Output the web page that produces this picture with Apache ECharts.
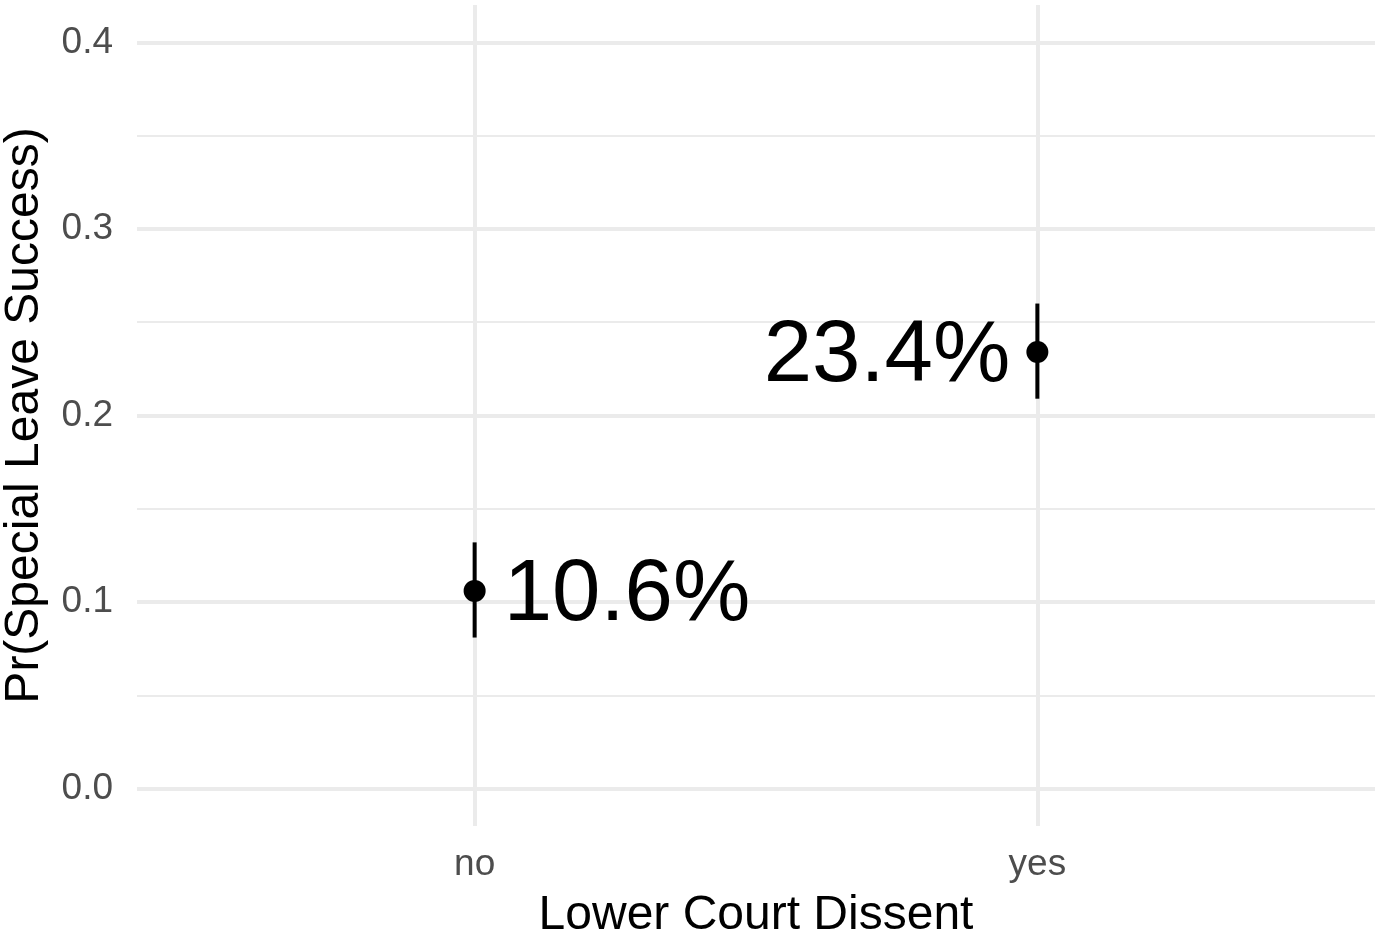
<!DOCTYPE html>
<html>
<head>
<meta charset="utf-8">
<title>Pr(Special Leave Success)</title>
<script src="https://cdn.jsdelivr.net/npm/echarts@6/dist/echarts.min.js"></script>
<style>
    html, body { margin: 0; padding: 0; background: #fff; }
    #chart { width: 1381px; height: 936px; }
</style>
</head>
<body>
<div id="chart"></div>
<script>
// data
var categories = ['no', 'yes'];
var estimates = [0.106, 0.234];
var lowerCI = [0.081, 0.209];
var upperCI = [0.132, 0.260];
var pointLabels = ['10.6%', '23.4%'];
var yTicks = [0, 0.1, 0.2, 0.3, 0.4];
var yMinorTicks = [0.05, 0.15, 0.25, 0.35];

(function() {
    var font = '"Liberation Sans", Arial, Helvetica, sans-serif',
        gridColor = '#ebebeb',
        chart = echarts.init(document.getElementById('chart'));

    // categories sit at 1, 2 on a value axis so the panel padding matches ggplot
    var xPos = categories.map(function(c, i) { return i + 1; });

    var gridLines = [];
    yTicks.forEach(function(v) {
        gridLines.push({ yAxis: v, lineStyle: { width: 4 } });
    });
    yMinorTicks.forEach(function(v) {
        gridLines.push({ yAxis: v, lineStyle: { width: 2 } });
    });
    xPos.forEach(function(v) {
        gridLines.push({ xAxis: v, lineStyle: { width: 4 } });
    });

    var pointData = estimates.map(function(v, i) {
        var right = i === 0;
        return {
            value: [xPos[i], v],
            label: {
                position: right ? 'right' : 'left',
                distance: right ? 18 : 16,
                formatter: pointLabels[i]
            }
        };
    });

    var series = [{
        name: 'grid',
        type: 'line',
        data: [],
        z: 1,
        silent: true,
        markLine: {
            z: 1, // markLine sits at z 5 by default, keep it under the marks
            silent: true,
            symbol: ['none', 'none'],
            label: { show: false },
            lineStyle: { color: gridColor, type: 'solid' },
            emphasis: { disabled: true },
            data: gridLines
        }
    }];

    // one short vertical line per category for the interval
    categories.forEach(function(c, i) {
        series.push({
            name: 'ci ' + c,
            type: 'line',
            z: 3,
            silent: true,
            symbol: 'none',
            lineStyle: { color: '#000', width: 4, cap: 'butt' },
            data: [[xPos[i], lowerCI[i]], [xPos[i], upperCI[i]]]
        });
    });

    series.push({
        name: 'estimate',
        type: 'scatter',
        z: 4,
        silent: true,
        symbol: 'circle',
        symbolSize: 22,
        itemStyle: { color: '#000', opacity: 1 },
        label: {
            show: true,
            fontSize: 87,
            color: '#000',
            fontFamily: font,
            offset: [0, 5]
        },
        data: pointData
    });

    chart.setOption({
        animation: false,
        backgroundColor: '#fff',
        grid: { left: 137, right: 6, top: 5, bottom: 110, outerBoundsMode: 'none', containLabel: false },
        xAxis: {
            type: 'value',
            min: 0.4,
            max: 2.6,
            name: 'Lower Court Dissent',
            nameLocation: 'middle',
            nameGap: 66,
            nameTextStyle: { fontSize: 48, color: '#000', fontFamily: font },
            axisLine: { show: false },
            axisTick: { show: false },
            splitLine: { show: false },
            axisLabel: {
                customValues: xPos,
                margin: 20,
                fontSize: 37,
                color: '#4d4d4d',
                fontFamily: font,
                formatter: function(v) { return categories[Math.round(v) - 1]; }
            }
        },
        yAxis: {
            type: 'value',
            min: -0.02,
            max: 0.42,
            name: 'Pr(Special Leave Success)',
            nameLocation: 'middle',
            nameGap: 88,
            nameTextStyle: { fontSize: 48, color: '#000', fontFamily: font },
            axisLine: { show: false },
            axisTick: { show: false },
            splitLine: { show: false },
            axisLabel: {
                customValues: yTicks,
                margin: 24,
                fontSize: 37,
                color: '#4d4d4d',
                fontFamily: font,
                formatter: function(v) { return v.toFixed(1); }
            }
        },
        series: series
    });
}());
</script>
</body>
</html>
